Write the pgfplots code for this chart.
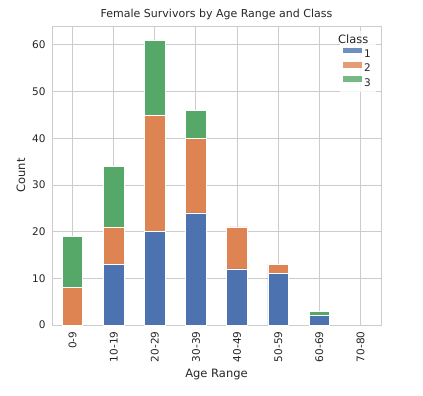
\documentclass[border=0pt]{standalone}
\usepackage{pgfplots}
\pgfplotsset{compat=1.18}
\usetikzlibrary{calc}
\usepackage{fontspec}
\setmainfont{DejaVu Sans}
\definecolor{c1}{HTML}{4C72B0}
\definecolor{c2}{HTML}{DD8452}
\definecolor{c3}{HTML}{55A868}
\definecolor{gridc}{HTML}{CCCCCC}
\definecolor{txt}{HTML}{262626}
\begin{document}
\begin{tikzpicture}[x=1pt,y=1pt]
\begin{axis}[
  name=ax,
  scale only axis,
  width=329pt, height=299pt,
  ybar stacked,
  bar width=0.5,
  xmin=-0.5, xmax=7.5,
  ymin=0, ymax=64.05,
  xtick={0,...,7},
  xticklabels={0-9,10-19,20-29,30-39,40-49,50-59,60-69,70-80},
  x tick label style={rotate=90, anchor=east, xshift=-3pt},
  y tick label style={xshift=-3pt},
  ytick={0,10,...,60},
  tick style={draw=none},
  grid=major,
  grid style={gridc, line width=0.9pt},
  axis line style={gridc, line width=1pt},
  ticklabel style={font=\fontsize{10.5}{12}\selectfont, text=txt},
  /pgf/number format/assume math mode=true,
  xlabel={Age Range}, ylabel={Count},
  label style={font=\fontsize{11.5}{13}\selectfont, text=txt},
  title={Female Survivors by Age Range and Class},
  title style={font=\fontsize{11}{13}\selectfont, text=txt, yshift=-3pt},
  legend style={at={(0.985,0.985)}, anchor=north east, draw=none,
    fill=white, fill opacity=0.8, text opacity=1,
    font=\fontsize{10.5}{13}\selectfont, text=txt, cells={anchor=west},
    row sep=1pt},
  legend image code/.code={\fill[#1, draw=none] (0pt,1.2pt) rectangle (19pt,6.6pt);},
  every axis plot/.append style={draw=white, line width=0.8pt},
]
\addlegendimage{empty legend}
\addlegendentry{\hspace{-26pt}\fontsize{11.5}{13}\selectfont Class}
\addplot[fill=c1, draw=white] coordinates {(0,0) (1,13) (2,20) (3,24) (4,12) (5,11) (6,2) (7,0)};
\addlegendentry{1}
\addplot[fill=c2, draw=white] coordinates {(0,8) (1,8) (2,25) (3,16) (4,9) (5,2) (6,0) (7,0)};
\addlegendentry{2}
\addplot[fill=c3, draw=white] coordinates {(0,11) (1,13) (2,16) (3,6) (4,0) (5,0) (6,1) (7,0)};
\addlegendentry{3}
\end{axis}
\path[use as bounding box] ($(ax.south west)+(-52pt,-70pt)$) rectangle ($(ax.north east)+(42pt,26pt)$);
\end{tikzpicture}
\end{document}
